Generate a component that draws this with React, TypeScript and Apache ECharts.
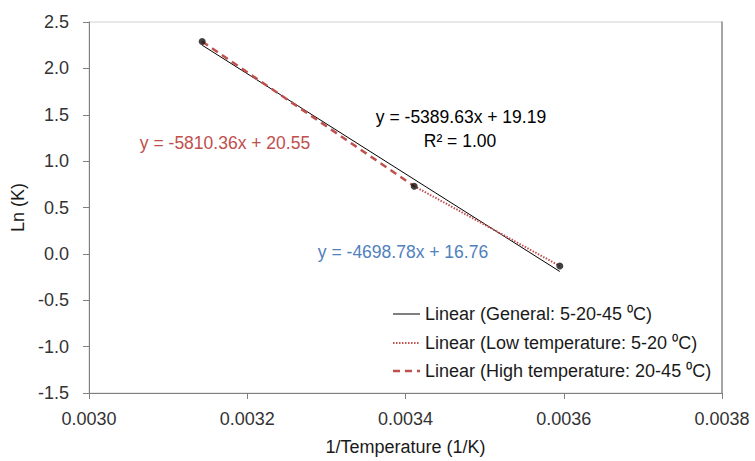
import React, { useEffect, useRef } from "react";
import * as echarts from "echarts";

// Measured data points: 1/T (1/K) and Ln(K)
const invTemp = [0.003143, 0.003411, 0.003595];
const lnK = [2.29, 0.73, -0.13];

// Trendline end points
const generalX = [0.003143, 0.003595];
const generalY = [2.25, -0.19];
const highX = [0.003143, 0.003411];
const highY = [2.29, 0.73];
const lowX = [0.003411, 0.003595];
const lowY = [0.73, -0.13];

const legendLabels = [
  "Linear (General: 5-20-45 \u2070C)",
  "Linear (Low temperature: 5-20 \u2070C)",
  "Linear (High temperature: 20-45 \u2070C)",
];
const eqGeneral = "y = -5389.63x + 19.19";
const r2General = "R\u00B2 = 1.00";
const eqHigh = "y = -5810.36x + 20.55";
const eqLow = "y = -4698.78x + 16.76";

const FONT = "Liberation Sans, Arial, sans-serif";
const RED = "#c0504d";
const BLUE = "#4f81bd";

function pairs(xs: number[], ys: number[]) {
  return xs.map((x, i) => [x, ys[i]]);
}

export default function App() {
  const ref = useRef<HTMLDivElement>(null);
  useEffect(() => {
    if (!ref.current) return;
    document.body.style.margin = "0";
    const chart = echarts.init(ref.current, null, { renderer: "svg" });
    const legendRows = [314, 343, 371];
    const legendStyles = [
      { stroke: "#000", lineWidth: 1, lineDash: null as any },
      { stroke: RED, lineWidth: 2, lineDash: [1.5, 1.5] },
      { stroke: RED, lineWidth: 2.5, lineDash: [7, 5] },
    ];
    const graphic: any[] = [];
    legendRows.forEach((y, i) => {
      graphic.push({
        type: "line",
        shape: { x1: 393, y1: y, x2: 420, y2: y },
        style: legendStyles[i],
        silent: true,
      });
      graphic.push({
        type: "text",
        x: 425,
        y,
        style: {
          text: legendLabels[i],
          font: `18px ${FONT}`,
          fill: "#1a1a1a",
          textVerticalAlign: "middle",
          verticalAlign: "middle",
        },
      });
    });
    const textAt = (text: string, x: number, y: number, fill: string) => ({
      type: "text",
      x,
      y,
      style: {
        text,
        font: `17.5px ${FONT}`,
        fill,
        align: "center",
        verticalAlign: "middle",
        textAlign: "center",
        textVerticalAlign: "middle",
      },
    });
    graphic.push(textAt(eqGeneral, 461, 117, "#000"));
    graphic.push(textAt(r2General, 460, 141, "#000"));
    graphic.push(textAt(eqHigh, 225, 143, RED));
    graphic.push(textAt(eqLow, 403, 252, BLUE));

    chart.setOption({
      animation: false,
      backgroundColor: "#fff",
      grid: {
        left: 89,
        right: 33,
        top: 22,
        bottom: 68,
        show: true,
        borderColor: "#d0d0d0",
        borderWidth: 1,
      },
      xAxis: {
        type: "value",
        min: 0.003,
        max: 0.0038,
        interval: 0.0002,
        name: "1/Temperature (1/K)",
        nameLocation: "middle",
        nameGap: 45,
        nameTextStyle: { fontFamily: FONT, fontSize: 18, color: "#1a1a1a" },
        axisLine: { show: true, onZero: false, lineStyle: { color: "#808080", width: 1 } },
        axisTick: { show: true, length: 6, lineStyle: { color: "#808080" } },
        axisLabel: {
          fontFamily: FONT,
          fontSize: 18,
          color: "#333",
          margin: 17,
          formatter: (v: number) => v.toFixed(4),
        },
        splitLine: { show: false },
      },
      yAxis: [
        {
          type: "value",
          min: -1.5,
          max: 2.5,
          interval: 0.5,
          name: "Ln (K)",
          nameLocation: "middle",
          nameRotate: 90,
          nameGap: 58,
          nameTextStyle: { fontFamily: FONT, fontSize: 18, color: "#1a1a1a" },
          axisLine: { show: true, onZero: false, lineStyle: { color: "#808080", width: 1 } },
          axisTick: { show: true, length: 6, lineStyle: { color: "#808080" } },
          axisLabel: {
            fontFamily: FONT,
            fontSize: 18,
            color: "#333",
            margin: 20,
            formatter: (v: number) => v.toFixed(1),
          },
          splitLine: { show: false },
        },
        {
          type: "value",
          position: "right",
          min: -1.5,
          max: 2.5,
          interval: 0.5,
          axisLine: { show: true, onZero: false, lineStyle: { color: "#909090", width: 1.5 } },
          axisTick: { show: false },
          axisLabel: { show: false },
          splitLine: { show: false },
        },
      ],
      series: [
        {
          name: legendLabels[0],
          type: "line",
          data: pairs(generalX, generalY),
          symbol: "none",
          lineStyle: { color: "#000", width: 1 },
          z: 2,
        },
        {
          name: legendLabels[1],
          type: "line",
          data: pairs(lowX, lowY),
          symbol: "none",
          lineStyle: { color: RED, width: 2, type: [1.5, 1.5] },
          z: 3,
        },
        {
          name: legendLabels[2],
          type: "line",
          data: pairs(highX, highY),
          symbol: "none",
          lineStyle: { color: RED, width: 2.5, type: [7, 5] },
          z: 3,
        },
        {
          name: "Data",
          type: "scatter",
          data: pairs(invTemp, lnK),
          symbol: "circle",
          symbolSize: 7,
          itemStyle: { color: "#111" },
          z: 4,
        },
      ],
      graphic,
    });
    return () => chart.dispose();
  }, []);
  return <div ref={ref} style={{ width: 755, height: 461 }} />;
}
